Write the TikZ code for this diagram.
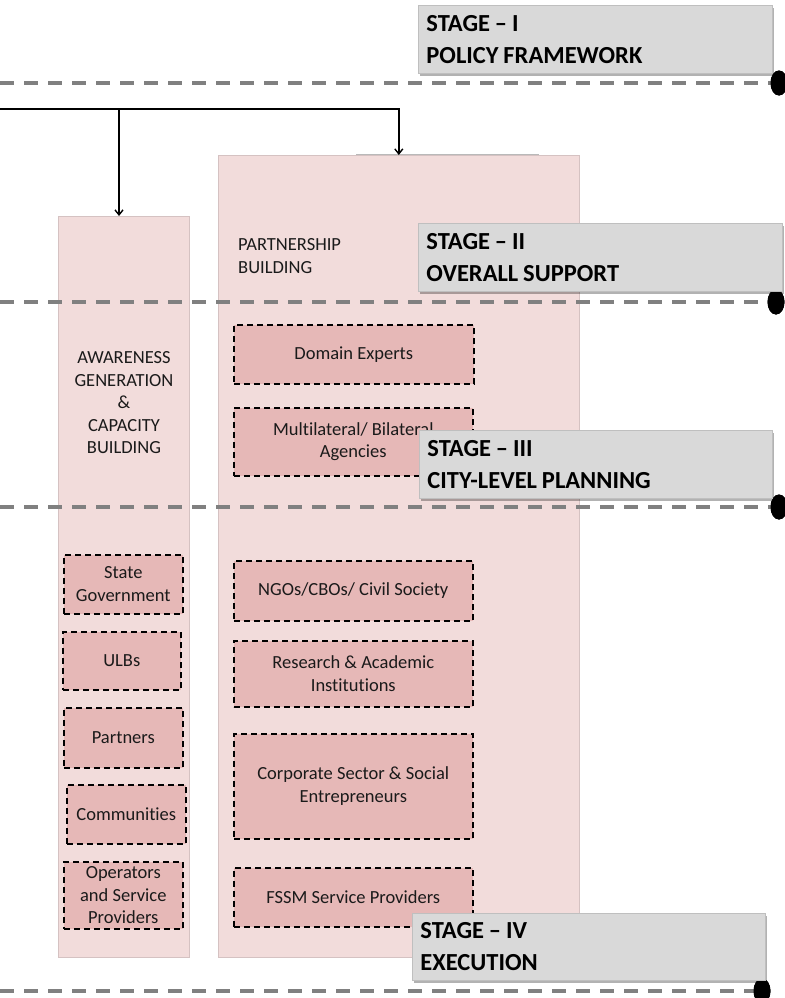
\documentclass[tikz,border=0pt]{standalone}
\usepackage{fontspec}
\setmainfont{Carlito}[Ligatures={NoCommon}]
\usetikzlibrary{shadows,arrows.meta,calc,shapes.geometric}
\definecolor{colfill}{HTML}{F2DCDB}
\definecolor{colborder}{HTML}{D5C2C2}
\definecolor{boxfill}{HTML}{E6B8B7}
\definecolor{stagefill}{HTML}{D9D9D9}
\definecolor{stageborder}{HTML}{BFBFBF}
\definecolor{sepgray}{HTML}{808080}
\definecolor{textc}{HTML}{1A1A1A}
\newcommand\stgspacing{\spaceskip=0.2em plus 0.05em\relax}
\tikzset{
  col/.style={draw=colborder, line width=0.6pt, fill=colfill, anchor=north west, inner sep=0pt},
  itembox/.style={draw=black, dash pattern=on 6pt off 4pt, line width=1.6pt, fill=boxfill,
    anchor=north west, align=center, inner sep=2pt, text=textc,
    font=\fontsize{18.5}{22.5}\selectfont},
  lbl/.style={align=center, inner sep=0pt, text=textc, font=\fontsize{18.5}{22.5}\selectfont},
  stagebox/.style={draw=stageborder, line width=0.8pt, fill=stagefill, anchor=north west,
    inner xsep=8pt, inner ysep=0pt, align=left,
    drop shadow={shadow xshift=1.5pt, shadow yshift=-2.5pt, fill=black, opacity=0.3},
    font=\fontsize{24.5}{32}\selectfont\bfseries},
  sep/.style={draw=sepgray, line width=4pt, dash pattern=on 14pt off 10pt},
  endcap/.style={ellipse, fill=black, minimum width=17pt, minimum height=25pt, inner sep=0pt},
  conn/.style={-{Straight Barb[length=5pt,width=8pt]}, line width=1.4pt}
}
\begin{document}
\begin{tikzpicture}[x=1pt,y=-1pt]
\useasboundingbox[fill=white] (0,0) rectangle (784,998);

% columns
\node[col, minimum width=131pt, minimum height=741pt] (aw) at (58,216) {};
\node[col, minimum width=361pt, minimum height=802pt] (pb) at (218,155) {};
\draw[gray!55, line width=0.6pt] (356,154) -- (539,154);

% column labels
\node[lbl] (alabel) at (124,403) {AWARENESS\\GENERATION\\\&\\CAPACITY\\BUILDING};
\node[lbl, align=left, anchor=west] (plabel) at (238,256) {PARTNERSHIP\\BUILDING};

% left column boxes
\node[itembox, minimum width=119pt, minimum height=59pt] (sg) at (63,554) {State\\Government};
\node[itembox, minimum width=118pt, minimum height=58pt] (ulb) at (62,631) {ULBs};
\node[itembox, minimum width=119pt, minimum height=60pt] (prt) at (63,707) {Partners};
\node[itembox, minimum width=119pt, minimum height=59pt] (com) at (66,784) {Communities};
\node[itembox, minimum width=119pt, minimum height=67pt] (ops) at (63,861) {Operators\\and Service\\Providers};

% right column boxes
\node[itembox, minimum width=240pt, minimum height=59pt] (de) at (233,324) {Domain Experts};
\node[itembox, minimum width=239pt, minimum height=68pt] (mb) at (233,407) {Multilateral/ Bilateral\\Agencies};
\node[itembox, minimum width=239pt, minimum height=60pt] (ngo) at (233,560) {NGOs/CBOs/ Civil Society};
\node[itembox, minimum width=239pt, minimum height=66pt] (ra) at (233,640) {Research \& Academic\\Institutions};
\node[itembox, minimum width=239pt, minimum height=105pt] (cs) at (233,733) {Corporate Sector \& Social\\Entrepreneurs};
\node[itembox, minimum width=239pt, minimum height=59pt] (fssm) at (233,867) {FSSM Service Providers};

% connectors
\coordinate (src) at (0,109);
\coordinate (br) at (119,109);
\draw[conn] (src) -| (pb.north);
\draw[conn] (br) -- (br |- aw.north);

% separators and end caps
\node[endcap] (e1) at (779,83) {};
\node[endcap] (e2) at (776,302) {};
\node[endcap] (e3) at (779,507) {};
\node[endcap] (e4) at (762,991) {};
\coordinate (d1) at (0,83);
\coordinate (d2) at (0,302);
\coordinate (d3) at (0,507);
\coordinate (d4) at (0,991);
\draw[sep] (d1) -- (e1.center);
\draw[sep] (d2) -- (e2.center);
\draw[sep] (d3) -- (e3.center);
\draw[sep] (d4) -- (e4.center);
\node[endcap] at (e1) {};
\node[endcap] at (e2) {};
\node[endcap] at (e3) {};
\node[endcap] at (e4) {};

% stage boxes
\node[stagebox, text width=338pt, minimum height=68pt] (s1) at (418,5) {\stgspacing STAGE -- I\\POLICY FRAMEWORK};
\node[stagebox, text width=348pt, minimum height=68pt] (s2) at (418,223) {\stgspacing STAGE -- II\\OVERALL SUPPORT};
\node[stagebox, text width=337pt, minimum height=68pt] (s3) at (419,430) {\stgspacing STAGE -- III\\CITY-LEVEL PLANNING};
\node[stagebox, text width=337pt, minimum height=67pt] (s4) at (412,913) {\stgspacing STAGE -- IV\\EXECUTION};
\end{tikzpicture}
\end{document}
